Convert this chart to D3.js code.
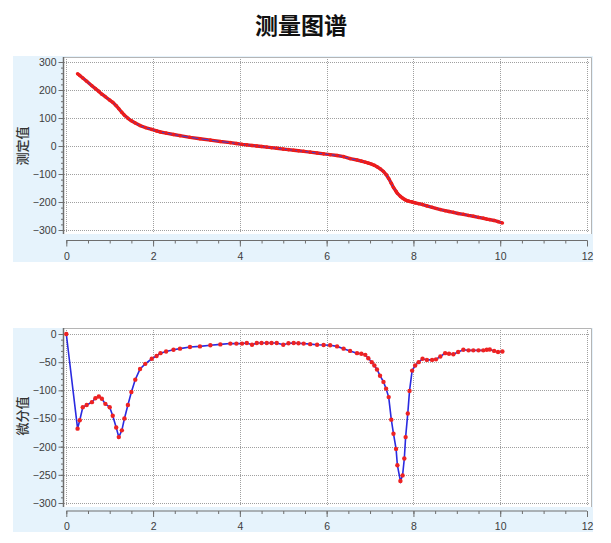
<!DOCTYPE html>
<html>
<head>
<meta charset="utf-8">
<script src="https://cdn.jsdelivr.net/npm/d3@7"></script>
<style>
  html, body { margin: 0; padding: 0; background: #ffffff; }
  svg { display: block; }
  text { font-family: "Liberation Sans", "Noto Sans", sans-serif; }
  .cjk { font-family: "Noto Sans CJK SC", sans-serif; }
</style>
</head>
<body>
<div id="chart"></div>
<script>
// ---- data ----
const chartTitle = "测量图谱";
const topYLabel = "测定值";
const bottomYLabel = "微分值";

const volume = [0.26,0.31,0.38,0.47,0.59,0.67,0.75,0.82,0.90,1.00,1.07,1.15,1.21,1.28,1.34,1.42,1.50,1.59,1.70,1.82,
  1.97,2.08,2.17,2.30,2.47,2.62,2.85,3.08,3.32,3.55,3.78,3.92,4.05,4.16,4.28,4.39,4.50,4.62,4.73,4.85,
  5.00,5.12,5.24,5.35,5.47,5.62,5.78,5.93,6.08,6.24,6.39,6.54,6.70,6.80,6.89,6.96,7.04,7.10,7.16,7.23,
  7.31,7.37,7.43,7.49,7.54,7.60,7.63,7.70,7.75,7.79,7.82,7.87,7.91,7.97,8.04,8.12,8.21,8.31,8.43,8.52,
  8.62,8.73,8.82,8.92,9.03,9.15,9.27,9.38,9.50,9.61,9.69,9.76,9.86,9.95,10.05];

const measured = [258,252,243,231,215,205,195,185,176,164,156,144,133,120,110,99,90,82,73,66,
  59,54,50,46,41,37,31,26,21,16,12,9,6,4,2,0,-2,-4,-6,-8,
  -11,-13,-15,-17,-19,-22,-25,-28,-31,-34,-38,-45,-50,-54,-58,-61,-65,-69,-74,-81,
  -91,-102,-116,-133,-148,-162,-169,-180,-186,-190,-193,-196,-198,-200,-203,-206,-209,-214,-219,-223,
  -227,-231,-234,-237,-241,-244,-248,-251,-255,-258,-261,-263,-266,-270,-275];

const diffStartX = 0;
const diffStartY = 0;
const derivative = [-168,-153,-130,-126,-121,-114,-111,-115,-124,-130,-145,-166,-183,-171,-150,-126,-103,-81,-62,-53,
  -44,-39,-34,-31,-28,-26,-23,-22,-20,-18.5,-17,-17,-17,-16,-19,-16,-16,-16,-16,-16,
  -19,-16.5,-16,-16.5,-17,-18,-19,-19.5,-20,-22,-26,-30,-34,-35,-37,-43,-50,-56,-63,-74,
  -85,-97,-112,-152,-177,-204,-233,-261,-251,-221,-183,-141,-101,-65,-56,-50,-44,-46,-46,-45,
  -40,-34,-35,-36,-32,-28,-29,-29,-29,-29,-28,-27.5,-30,-32,-31];

const xTicks = [0,2,4,6,8,10,12];
const topYTicks = [300,200,100,0,-100,-200,-300];
const bottomYTicks = [0,-50,-100,-150,-200,-250,-300];

// ---- layout ----
const W = 611, H = 543;
const svg = d3.select("#chart").append("svg").attr("width", W).attr("height", H);

svg.append("text").attr("class","cjk")
  .attr("x", 301).attr("y", 34).attr("text-anchor","middle")
  .attr("font-size", 23).attr("font-weight", "bold").attr("fill", "#111")
  .text(chartTitle);

const panelBg = "#e6f3fc";
const gridCol = "#a0a0a0";
const axisCol = "#6e6e6e";
const labelCol = "#3c3c3c";

function drawPanel(cfg) {
  const g = svg.append("g");
  g.append("rect").attr("x", 13).attr("y", cfg.panelTop).attr("width", 580).attr("height", cfg.panelBottom - cfg.panelTop)
    .attr("fill", panelBg);
  g.append("rect").attr("x", 63).attr("y", cfg.plotTop).attr("width", 528).attr("height", cfg.plotBottom - cfg.plotTop)
    .attr("fill", "#fff");
  g.append("path").attr("d", `M63,${cfg.plotTop+0.5}H591.5V${cfg.plotBottom}`)
    .attr("fill","none").attr("stroke","#b5b5b5").attr("stroke-width",1);

  const x = d3.scaleLinear().domain([0, 12]).range([66.3, 587]);
  const y = d3.scaleLinear().domain(cfg.yDomain).range(cfg.yRange);

  const grid = g.append("g").attr("stroke", gridCol).attr("stroke-width", 1).attr("stroke-dasharray", "1,1");
  cfg.yTicks.forEach(t => {
    grid.append("line").attr("x1", 64).attr("x2", 590).attr("y1", Math.round(y(t))+0.5).attr("y2", Math.round(y(t))+0.5);
  });
  xTicks.forEach(t => {
    grid.append("line").attr("x1", Math.round(x(t))+0.5).attr("x2", Math.round(x(t))+0.5)
      .attr("y1", cfg.plotTop + 2).attr("y2", cfg.plotBottom - 1);
  });

  const yMinor = d3.range(cfg.yDomain[0], cfg.yDomain[1] + 0.001, cfg.yMinorStep);
  const yAxisG = g.append("g").attr("transform", "translate(63.5,0)");
  yAxisG.call(d3.axisLeft(y).tickValues(yMinor).tickSize(2.5).tickFormat(""))
    .call(s => s.select(".domain").remove())
    .selectAll("line").attr("stroke", axisCol);
  const yMajor = g.append("g").attr("transform", "translate(63.5,0)");
  yMajor.call(d3.axisLeft(y).tickValues(cfg.yTicks).tickSize(5).tickPadding(2).tickFormat(d3.format("d")))
    .call(s => s.select(".domain").remove());
  yMajor.selectAll("line").attr("stroke", axisCol);
  yMajor.selectAll("text").attr("fill", labelCol).attr("font-size", 10.5)
    .attr("font-family", "'Liberation Sans', sans-serif");
  g.append("line").attr("x1", 63.5).attr("x2", 63.5).attr("y1", cfg.plotTop).attr("y2", cfg.plotBottom)
    .attr("stroke", axisCol).attr("stroke-width", 1.5);

  const xMinor = d3.range(0, 12.001, 0.5);
  const xa = g.append("g").attr("transform", `translate(0,${cfg.xAxisY})`);
  xa.call(d3.axisBottom(x).tickValues(xMinor).tickSize(3).tickFormat(""))
    .call(s => s.select(".domain").remove())
    .selectAll("line").attr("stroke", axisCol);
  const xb = g.append("g").attr("transform", `translate(0,${cfg.xAxisY})`);
  xb.call(d3.axisBottom(x).tickValues(xTicks).tickSize(6).tickPadding(6).tickFormat(d3.format("d")))
    .call(s => s.select(".domain").attr("stroke", axisCol).attr("d", `M${x(0)},0H${x(12)}`));
  xb.selectAll("line").attr("stroke", axisCol);
  xb.selectAll("text").attr("fill", labelCol).attr("font-size", 10.5)
    .attr("font-family", "'Liberation Sans', sans-serif");

  g.append("text").attr("class", "cjk")
    .attr("transform", `translate(27,${cfg.labelY}) rotate(-90)`)
    .attr("text-anchor", "middle").attr("font-size", 13).attr("font-weight", 500).attr("fill", "#333")
    .text(cfg.label);

  return {g, x, y};
}

// top panel
const topPanel = drawPanel({
  panelTop: 56, panelBottom: 262, plotTop: 57, plotBottom: 234,
  yDomain: [-300, 300], yRange: [230, 62], yTicks: topYTicks, yMinorStep: 20,
  xAxisY: 240.5, label: topYLabel, labelY: 146
});
const topData = volume.map((v, i) => [v, measured[i]]);
const lineTop = d3.line().x(d => topPanel.x(d[0])).y(d => topPanel.y(d[1]));
topPanel.g.append("path").datum(topData).attr("d", lineTop)
  .attr("fill", "none").attr("stroke", "#e41a1a").attr("stroke-width", 3.4).attr("stroke-linejoin","round");
topPanel.g.append("path").datum(topData).attr("d", lineTop)
  .attr("fill", "none").attr("stroke", "#4040d8").attr("stroke-width", 1);
topPanel.g.append("g").selectAll("circle").data(topData).join("circle")
  .attr("cx", d => topPanel.x(d[0])).attr("cy", d => topPanel.y(d[1])).attr("r", 1.8).attr("fill", "#ee1c1c");

// bottom panel
const botPanel = drawPanel({
  panelTop: 328, panelBottom: 532, plotTop: 328, plotBottom: 507,
  yDomain: [-300, 0], yRange: [503, 334], yTicks: bottomYTicks, yMinorStep: 10,
  xAxisY: 511, label: bottomYLabel, labelY: 416
});
const botData = [[diffStartX, diffStartY]].concat(volume.map((v, i) => [v, derivative[i]]));
const lineBot = d3.line().x(d => botPanel.x(d[0])).y(d => botPanel.y(d[1]));
botPanel.g.append("path").datum(botData).attr("d", lineBot)
  .attr("fill", "none").attr("stroke", "#2a2ae0").attr("stroke-width", 1.6);
botPanel.g.append("g").selectAll("circle").data(botData).join("circle")
  .attr("cx", d => botPanel.x(d[0])).attr("cy", d => botPanel.y(d[1])).attr("r", 2.2).attr("fill", "#ee2222");
</script>
</body>
</html>
